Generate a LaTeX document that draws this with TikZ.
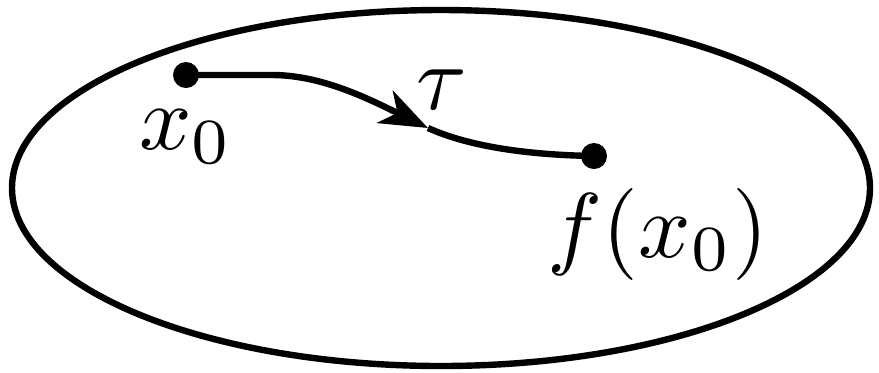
\documentclass[tikz,border=0pt]{standalone}
\usepackage{graphicx}
\usetikzlibrary{arrows.meta}
\newcommand{\bigtxt}[1]{\scalebox{4.6}{#1}}
\begin{document}
\begin{tikzpicture}[x=0.5pt,y=-0.5pt,
  dot/.style={circle,fill=black,inner sep=0pt,minimum size=13pt},
  lbl/.style={inner sep=0pt},
  curve/.style={line width=3.2pt}]
\useasboundingbox (0,0) rectangle (879,372);
\draw[line width=3.2pt] (441,188) ellipse [x radius=429, y radius=178];
\node[dot] (a) at (186,75) {};
\node[dot] (b) at (594,156) {};
\coordinate (m) at (428,128);
\draw[curve,-{Stealth[length=24pt,width=18pt,inset=7pt]}] (a.center) -- (272,75) .. controls (320,75) and (365,97) .. (m);
\draw[curve] (m) .. controls (470,147) and (530,155) .. (b.center);
\node[lbl] (x0) at (186,137) {\bigtxt{$x_0$}};
\node[lbl] (tau) at (442,90) {\bigtxt{$\tau$}};
\node[lbl] (fx) at (658,234) {\bigtxt{$f(x_0)$}};
\end{tikzpicture}
\end{document}
